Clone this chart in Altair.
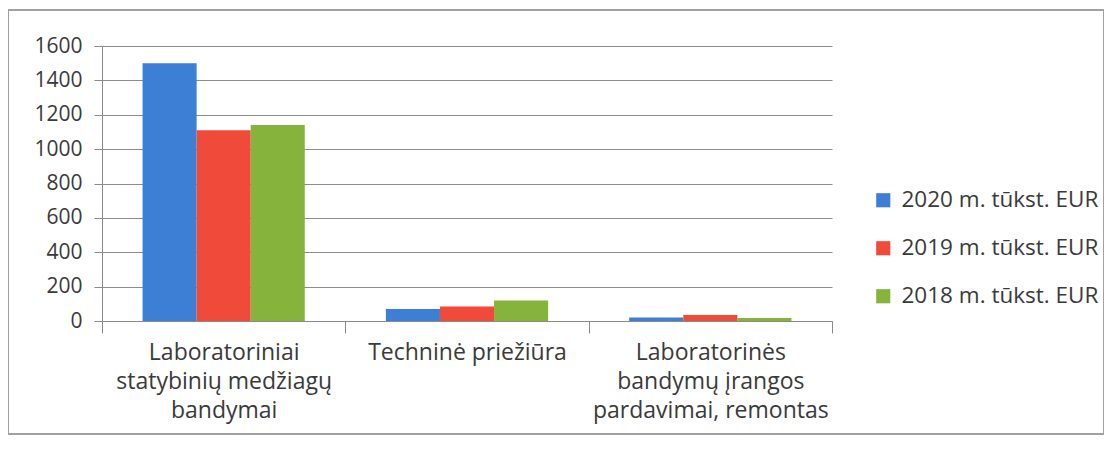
import altair as alt
import pandas as pd

categories = [
    "Laboratoriniai|statybinių medžiagų|bandymai",
    "Techninė priežiūra",
    "Laboratorinės|bandymų įrangos|pardavimai, remontas",
]
series = ["2020 m. tūkst. EUR", "2019 m. tūkst. EUR", "2018 m. tūkst. EUR"]
values_2020 = [1500, 70, 20]
values_2019 = [1110, 85, 35]
values_2018 = [1140, 120, 17]
colors = ["#3d7fd4", "#f04a3a", "#86b33b"]

rows = []
for s, vals in zip(series, [values_2020, values_2019, values_2018]):
    for c, v in zip(categories, vals):
        rows.append({"category": c, "series": s, "value": v})
df = pd.DataFrame(rows)

FONT = "Open Sans"
TXT = "#3a3a3a"

bars = alt.Chart(df).mark_bar().encode(
    x=alt.X("category:N", sort=categories,
            scale=alt.Scale(paddingInner=0, paddingOuter=0),
            axis=alt.Axis(title=None, labelAngle=0, labelExpr="split(datum.label, '|')",
                          tickBand="extent", tickSize=12, tickColor="#8a8a8a",
                          domainColor="#8a8a8a", labelFontSize=23, labelFont=FONT,
                          labelColor=TXT, labelPadding=8, labelLineHeight=29,
                          labelBaseline="top", labelLimit=400)),
    xOffset=alt.XOffset("series:N", sort=series,
                        scale=alt.Scale(paddingInner=0, paddingOuter=0.75)),
    y=alt.Y("value:Q", scale=alt.Scale(domain=[0, 1600]),
            axis=alt.Axis(title=None, values=list(range(0, 1601, 200)), format="d",
                          tickSize=8, tickColor="#8a8a8a", domain=True,
                          domainColor="#8a8a8a", gridColor="#8c8c8c",
                          labelFontSize=21, labelFont=FONT, labelColor=TXT,
                          labelPadding=12)),
    color=alt.Color("series:N", sort=series,
                    scale=alt.Scale(domain=series, range=colors),
                    legend=alt.Legend(title=None, orient="none", legendX=770, legendY=143,
                                      symbolType="square", symbolSize=200,
                                      symbolStrokeWidth=0, labelLimit=400,
                                      labelFontSize=22.5, labelFont=FONT,
                                      labelColor=TXT, rowPadding=25,
                                      labelOffset=7)),
)

frame = alt.Chart(df).mark_rect(fill=None, stroke="#a0a0a0", strokeWidth=1).encode(
    x=alt.value(-94), x2=alt.value(1002), y=alt.value(-36), y2=alt.value(388)
)

chart = alt.layer(frame, bars).properties(
    width=730, height=275,
    autosize=alt.AutoSizeParams(type="none"),
    padding={"left": 94, "top": 38, "right": 272, "bottom": 126},
    background="white",
).configure_view(stroke=None)

chart.save("out.html", embed_options={"renderer": "svg", "actions": False})
